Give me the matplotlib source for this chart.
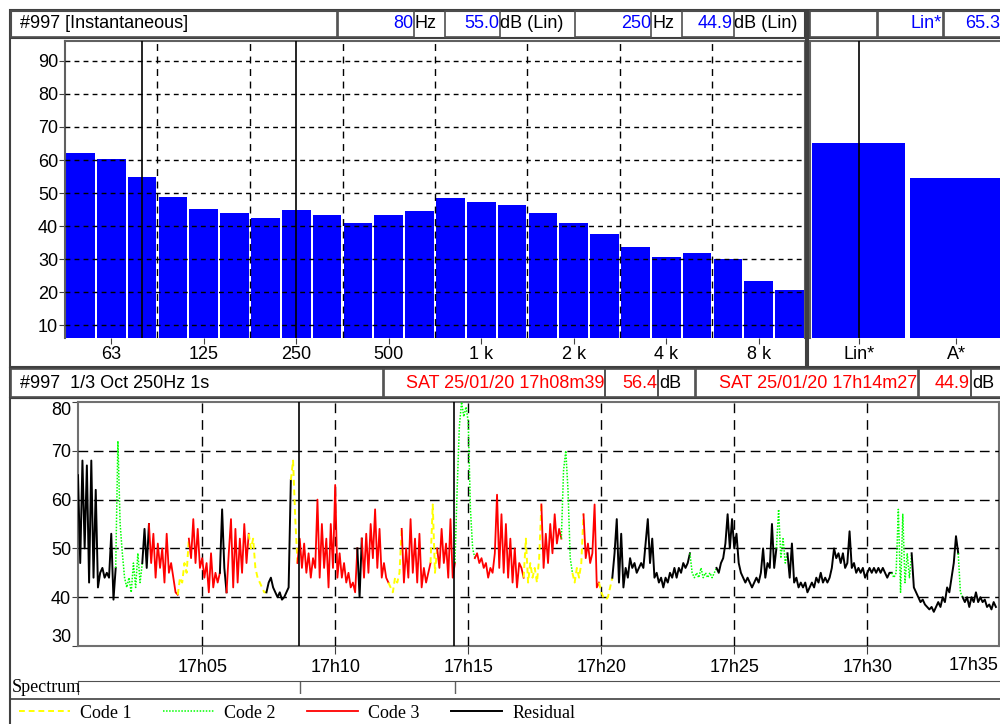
import numpy as np
import matplotlib.pyplot as plt
from matplotlib.patches import Rectangle
from matplotlib.lines import Line2D

plt.rcParams['font.family'] = ['Liberation Sans', 'DejaVu Sans']

W, H = 1000, 724

# 1/3 octave spectrum, instantaneous (50 Hz .. 10 kHz)
band_db = [62.0, 60.4, 55.0, 48.8, 45.3, 44.0, 42.5, 44.9, 43.4, 41.0, 43.4, 44.6,
           48.5, 47.3, 46.4, 44.0, 41.0, 37.7, 33.7, 30.7, 31.9, 30.0, 23.4, 20.7]
label_idx = [1, 4, 7, 10, 13, 16, 19, 22]
label_txt = ['63', '125', '250', '500', '1 k', '2 k', '4 k', '8 k']
octave_edges = [2.5, 5.5, 8.5, 11.5, 14.5, 17.5, 20.5]
band_cursors = [2, 7]  # 80 Hz, 250 Hz

# global levels
glob_names = ['Lin*', 'A*']
glob_db = [65.3, 54.6]

# 250 Hz time history, one value every 5 s from 17h00m20
t_start = 20
t_step = 5
levels = [
    65, 47, 68, 50, 67, 43, 68, 44, 62,
    42, 45, 46, 44, 45, 44, 53, 39.5,
    46, 72, 55, 49, 44, 42, 44, 41, 47, 42, 49, 43,
    47, 54, 46,
    55, 47, 53, 44, 51, 46, 50, 43, 53, 45, 47, 44, 41,
    40.5, 44, 43, 47, 45,
    52, 48, 56, 47, 54, 46, 48, 44, 47, 41, 49, 42, 45, 43,
    45, 58, 46,
    41, 49, 56, 42, 54, 43, 52, 45, 55, 47,
    53, 50, 52, 46, 44, 43, 42, 41,
    41, 43, 44, 42, 41, 40, 41, 39.5, 40, 41, 42,
    64, 68, 56,
    47, 52, 46, 51, 45, 49, 44, 48, 46, 60, 44, 55, 46, 52, 42,
    55, 46, 63, 44, 49, 44, 47, 43, 45, 42, 43, 41,
    50, 40,
    52, 44, 53, 45, 55, 48, 58, 46, 54, 44, 47, 44,
    43, 42, 41, 44, 43, 45,
    54, 43, 50, 44, 56, 45, 52, 43, 53, 42, 46, 43, 45,
    47, 59, 45,
    50, 46, 54, 47, 51, 44, 56, 44,
    47, 62, 75, 80, 77, 79, 76, 58, 50,
    48, 49, 47, 48, 46, 47, 44, 46, 45, 49, 61, 46, 57, 45, 55,
    44, 52, 43, 50, 42, 47, 46,
    44, 52, 43, 47, 44, 46, 43, 48,
    59, 46, 53, 47, 55, 49, 57, 51, 54,
    52, 66, 70, 62, 48,
    45, 43, 46, 44, 47,
    57, 48, 51, 47, 49, 59, 42,
    43, 41, 40, 39.5, 40, 42,
    44, 49, 56, 43, 53, 42, 46, 44, 48, 46, 47, 45, 46, 47, 46, 51, 56, 47,
    52, 44, 45, 43, 44, 42, 44, 43, 45, 44, 46, 44, 46, 45, 47, 46, 47,
    49, 45, 44, 45, 44, 46, 44, 45, 44, 45, 44, 45,
    46, 45, 47, 48, 51, 57, 50, 56, 50, 53, 47, 45, 44, 43, 44,
    43, 42, 43, 44, 43, 45, 50, 44, 47, 46, 55, 46,
    50, 58, 48, 52, 47,
    49, 44, 51, 43, 44, 42,
    43, 42, 43, 41, 42, 43, 42, 44, 43, 45, 43, 44, 43, 44,
    46, 50, 48, 49, 47, 49, 46, 47, 53.5, 46,
    47, 45, 46, 45, 46, 44, 45, 46, 45, 46, 45, 46, 45, 46, 45, 44, 45,
    45, 44, 45, 58, 41, 57, 43, 49, 44,
    49, 42, 41, 40, 39, 39.5, 38.5, 38, 37.5, 38, 37, 38, 39, 38, 40, 39, 42,
    41, 44, 47, 52.5,
    49, 41,
    40, 39, 40, 38, 40, 39, 41, 39, 40, 39, 39.5, 38, 38.5, 37.5, 39, 38,
]
# (code, number of samples): 0 residual, 1 code 1, 2 code 2, 3 code 3
code_runs = [(0, 17), (2, 12), (0, 3), (3, 13), (1, 5), (3, 14), (0, 3), (3, 10),
             (1, 8), (0, 11), (1, 3), (3, 27), (0, 2), (3, 12), (1, 6), (3, 13),
             (1, 3), (3, 8), (2, 9), (3, 22), (1, 8), (3, 9), (2, 5), (1, 5),
             (3, 7), (1, 6), (0, 35), (2, 12), (0, 27), (2, 5), (0, 47), (2, 9),
             (0, 21), (2, 2), (0, 16)]
time_cursors = [519, 867]  # 17h08m39, 17h14m27
time_ticks = [300, 600, 900, 1200, 1500, 1800]
time_labels = ['17h05', '17h10', '17h15', '17h20', '17h25', '17h30']

styles = {
    0: dict(color='black', lw=1.4, ls='-'),
    1: dict(color='#ffff00', lw=1.4, ls=(0, (3, 2))),
    2: dict(color='#00ff00', lw=1.1, ls=(0, (1, 1))),
    3: dict(color='#ff0000', lw=1.3, ls='-'),
}
code_names = ['Code 1', 'Code 2', 'Code 3', 'Residual']
code_order = [1, 2, 3, 0]

fig = plt.figure(figsize=(W / 100, H / 100), dpi=100)


def px_axes(x0, y0, x1, y1):
    return fig.add_axes([x0 / W, 1 - y1 / H, (x1 - x0) / W, (y1 - y0) / H])


def box(x0, y0, x1, y1, lw=1.2, ec='#505050'):
    fig.patches.append(Rectangle((x0 / W, 1 - y1 / H), (x1 - x0) / W, (y1 - y0) / H,
                                 transform=fig.transFigure, fill=False, ec=ec, lw=lw))


def label(x, y, s, ha='left', color='black', size=13, **kw):
    fig.text(x / W, 1 - y / H, s, ha=ha, va='center', color=color, fontsize=size, **kw)


grid_kw = dict(color='black', lw=1, zorder=3)

# ---- top spectrum
ax1 = px_axes(65, 41, 805, 338)
ax1.bar(range(len(band_db)), band_db, width=0.93, color='#0000ff', zorder=2)
for v in range(10, 100, 10):
    ax1.axhline(v, ls=(0, (3.5, 3)), **grid_kw)
for e in octave_edges:
    ax1.axvline(e, ls=(0, (5, 4)), **grid_kw)
for c in band_cursors:
    ax1.axvline(c, color='black', lw=1.2, zorder=4)
ax1.set_xlim(-0.5, len(band_db) - 0.5)
ax1.set_ylim(6.2, 96)
ax1.set_yticks(range(10, 100, 10))
ax1.set_xticks(label_idx, label_txt)
ax1.tick_params(labelsize=13, length=4, pad=1, color='#404040')
ax1.tick_params(axis='x', pad=2)
ax1.spines['bottom'].set_visible(False)
for s in ['top', 'left', 'right']:
    ax1.spines[s].set_color('#606060')
    ax1.spines[s].set_linewidth(1.5)

# ---- global levels
ax2 = px_axes(810, 41, 1005, 338)
ax2.bar(range(len(glob_db)), glob_db, width=0.95, color='#0000ff', zorder=2)
ax2.axvline(0, color='black', lw=1.2, zorder=4)
ax2.set_xlim(-0.5, 1.5)
ax2.set_ylim(6.2, 96)
ax2.set_yticks([])
ax2.set_xticks(range(len(glob_names)), glob_names)
ax2.tick_params(labelsize=13, length=4, pad=2, color='#404040')
ax2.spines['bottom'].set_visible(False)
ax2.spines['right'].set_visible(False)
for s in ['top', 'left']:
    ax2.spines[s].set_color('#606060')
    ax2.spines[s].set_linewidth(1.5)

# ---- time history
t = t_start + t_step * np.arange(len(levels))
lv = np.array(levels, dtype=float)
ax3 = px_axes(78, 402, 999, 646)
i0 = 0
for code, n in code_runs:
    i1 = min(i0 + n + 1, len(lv))
    ax3.plot(t[i0:i1], lv[i0:i1], zorder=5, **styles[code])
    i0 += n
for v in [40, 50, 60, 70]:
    ax3.axhline(v, ls=(0, (7, 4)), **grid_kw)
for tt in time_ticks:
    ax3.axvline(tt, ls=(0, (7, 5)), **grid_kw)
for tc in time_cursors:
    ax3.axvline(tc, color='black', lw=1.2, zorder=6)
ax3.set_xlim(t_start, 2097)
ax3.set_ylim(30, 80)
ax3.set_yticks(range(30, 90, 10))
ax3.set_xticks(time_ticks, time_labels)
ax3.tick_params(labelsize=13, length=4, pad=1, color='#404040')
ax3.tick_params(axis='x', length=6, pad=3)
ylabs = ax3.get_yticklabels()
ylabs[0].set_va('bottom')
ylabs[-1].set_va('top')
ax3.text(1.0, -0.045, '17h35', transform=ax3.transAxes, ha='right', va='top', fontsize=13)
for s in ax3.spines.values():
    s.set_color('#707070')
    s.set_linewidth(1.5)

# ---- spectrum cursor strip
label(12, 688, 'Spectrum', family='Liberation Serif')
ax4 = px_axes(78, 681, 1002, 694)
ax4.patch.set_facecolor('white')
ax4.patch.set_zorder(0)
ax4.set_xlim(t_start, 2097)
for tc in time_cursors:
    ax4.axvline(tc, ymin=0.1, ymax=1, color='#606060', lw=1)
ax4.set_xticks([])
ax4.set_yticks([])
ax4.spines['bottom'].set_visible(False)
ax4.spines['right'].set_visible(False)
for s in ['top', 'left']:
    ax4.spines[s].set_color('#505050')

# ---- legend
handles = [Line2D([], [], **styles[c]) for c in code_order]
fig.legend(handles, code_names, loc='center left', bbox_to_anchor=(19 / W, 1 - 713 / H),
           ncol=4, frameon=False, prop={'family': 'Liberation Serif', 'size': 13},
           handlelength=2.8, handletextpad=0.6, columnspacing=1.72, borderaxespad=0,
           borderpad=0)

# ---- frames
box(10, 10, 806, 367, lw=1.5, ec='#404040')
box(808, 10, 1003, 367, lw=1.5, ec='#404040')
box(11, 11, 805, 38, lw=1.5, ec='#404040')
box(809, 11, 1002, 38, lw=1.5, ec='#404040')
box(10, 368, 1003, 398, lw=1.5, ec='#404040')
box(10, 398, 1003, 725, lw=1.5, ec='#404040')
fig.add_artist(Line2D([10 / W, 1], [1 - 699 / H] * 2, color='#404040', lw=1.2))

# top header
box(11, 11, 337, 37)
label(20, 24, '#997 [Instantaneous]')
box(338, 11, 414, 37)
label(413, 24, '80', ha='right', color='#0000ff')
label(414, 24, 'Hz')
box(445, 11, 500, 37)
label(499, 24, '55.0', ha='right', color='#0000ff')
label(500, 24, 'dB (Lin)')
box(575, 11, 651, 37)
label(651, 24, '250', ha='right', color='#0000ff')
label(652, 24, 'Hz')
box(682, 11, 734, 37)
label(733, 24, '44.9', ha='right', color='#0000ff')
label(734, 24, 'dB (Lin)')
box(810, 11, 877, 37)
box(878, 11, 943, 37)
label(942, 24, 'Lin*', ha='right', color='#0000ff')
box(944, 11, 1010, 37)
label(965, 24, '65.3', color='#0000ff')

# bottom header
box(11, 369, 383, 397)
label(20, 383, '#997  1/3 Oct 250Hz 1s')
box(384, 369, 605, 397)
label(604, 383, 'SAT 25/01/20 17h08m39', ha='right', color='#ff0000')
box(605, 369, 658, 397)
label(657, 383, '56.4', ha='right', color='#ff0000')
box(658, 369, 695, 397)
label(659, 383, 'dB')
box(696, 369, 918, 397)
label(917, 383, 'SAT 25/01/20 17h14m27', ha='right', color='#ff0000')
box(919, 369, 971, 397)
label(970, 383, '44.9', ha='right', color='#ff0000')
box(971, 369, 1010, 397)
label(972, 383, 'dB')

fig.savefig('out.png', dpi=100)
